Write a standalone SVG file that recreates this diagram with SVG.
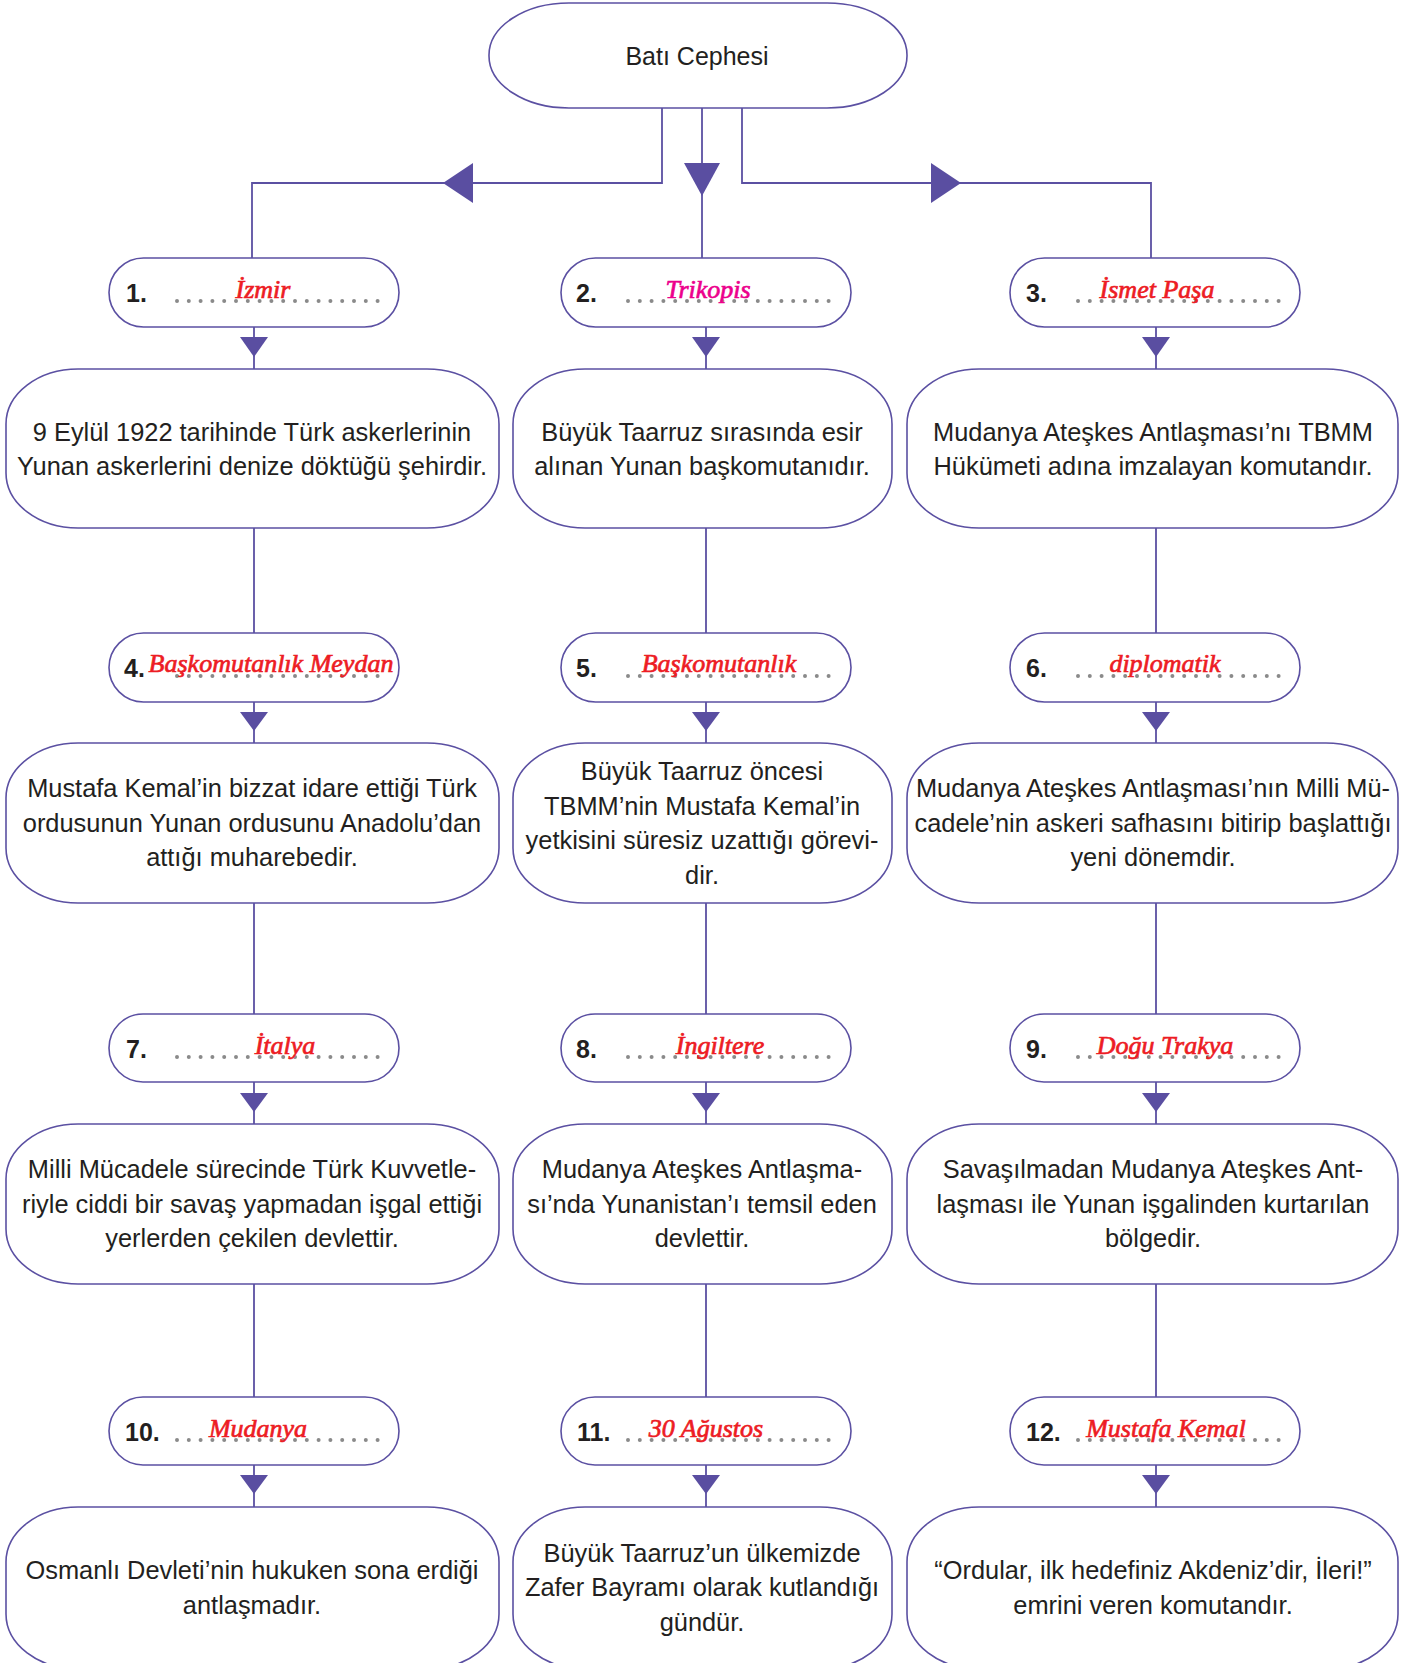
<svg xmlns="http://www.w3.org/2000/svg" width="1408" height="1663" viewBox="0 0 1408 1663">
<defs>
<style>
.box{fill:#fff;stroke:#5b50a2;stroke-width:1.6}
.ln{fill:none;stroke:#5b50a2;stroke-width:1.8}
.ar{fill:#5a4ea1;stroke:none}
.t{font-family:"Liberation Sans",Arial,sans-serif;font-size:25.4px;fill:#231f20;text-anchor:middle}
.n{font-family:"Liberation Sans",Arial,sans-serif;font-size:25px;font-weight:bold;fill:#231f20}
.d{stroke:#8a8a8a;stroke-width:4;stroke-linecap:round;stroke-dasharray:0 11.8}
.a{font-family:"Liberation Serif","Times New Roman",serif;font-style:italic;font-size:26px;fill:#ed1c24;stroke:#ed1c24;stroke-width:0.7;text-anchor:middle}
.m{fill:#ec008c;stroke:#ec008c}
</style>
</defs>
<rect width="1408" height="1663" fill="#fff"/>

<g id="connectors">
<path class="ln" d="M662,108 V183 H252 V259"/>
<path class="ln" d="M702,108 V259"/>
<path class="ln" d="M742,108 V183 H1151 V259"/>
<polygon class="ar" points="443,183 473,163 473,203"/>
<polygon class="ar" points="702,196 684,163 720,163"/>
<polygon class="ar" points="961,183 931,163 931,203"/>

<path class="ln" d="M254,327 V369 M254,528 V633 M254,702 V743 M254,903 V1014 M254,1082 V1124 M254,1284 V1397 M254,1465 V1507"/>
<path class="ln" d="M706,327 V369 M706,528 V633 M706,702 V743 M706,903 V1014 M706,1082 V1124 M706,1284 V1397 M706,1465 V1507"/>
<path class="ln" d="M1156,327 V369 M1156,528 V633 M1156,702 V743 M1156,903 V1014 M1156,1082 V1124 M1156,1284 V1397 M1156,1465 V1507"/>

<polygon class="ar" points="240,337 268,337 254,357"/>
<polygon class="ar" points="692,337 720,337 706,357"/>
<polygon class="ar" points="1142,337 1170,337 1156,357"/>
<polygon class="ar" points="240,712 268,712 254,731"/>
<polygon class="ar" points="692,712 720,712 706,731"/>
<polygon class="ar" points="1142,712 1170,712 1156,731"/>
<polygon class="ar" points="240,1093 268,1093 254,1112"/>
<polygon class="ar" points="692,1093 720,1093 706,1112"/>
<polygon class="ar" points="1142,1093 1170,1093 1156,1112"/>
<polygon class="ar" points="240,1475 268,1475 254,1494"/>
<polygon class="ar" points="692,1475 720,1475 706,1494"/>
<polygon class="ar" points="1142,1475 1170,1475 1156,1494"/>
</g>

<g id="root">
<rect class="box" x="489" y="3" width="418" height="105" rx="80" ry="52"/>
<text class="t" x="697" y="65" style="font-size:25px">Batı Cephesi</text>
</g>

<!-- Row 1 small -->
<g id="s1">
<rect class="box" x="109" y="258" width="290" height="69" rx="34.5"/>
<text class="n" x="126" y="302">1.</text>
<line class="d" x1="177" y1="301" x2="378" y2="301"/>
<text class="a" x="263" y="298">İzmir</text>
</g>
<g id="s2">
<rect class="box" x="561" y="258" width="290" height="69" rx="34.5"/>
<text class="n" x="576" y="302">2.</text>
<line class="d" x1="628" y1="301" x2="830" y2="301"/>
<text class="a m" x="708" y="298">Trikopis</text>
</g>
<g id="s3">
<rect class="box" x="1010" y="258" width="290" height="69" rx="34.5"/>
<text class="n" x="1026" y="302">3.</text>
<line class="d" x1="1078" y1="301" x2="1280" y2="301"/>
<text class="a" x="1157" y="298">İsmet Paşa</text>
</g>

<!-- Row 1 big -->
<g id="b1">
<rect class="box" x="6" y="369" width="493" height="159" rx="72" ry="55"/>
<text class="t" x="252" y="441">9 Eylül 1922 tarihinde Türk askerlerinin</text>
<text class="t" x="252" y="475">Yunan askerlerini denize döktüğü şehirdir.</text>
</g>
<g id="b2">
<rect class="box" x="513" y="369" width="379" height="159" rx="72" ry="55"/>
<text class="t" x="702" y="441">Büyük Taarruz sırasında esir</text>
<text class="t" x="702" y="475">alınan Yunan başkomutanıdır.</text>
</g>
<g id="b3">
<rect class="box" x="907" y="369" width="491" height="159" rx="72" ry="55"/>
<text class="t" x="1153" y="441">Mudanya Ateşkes Antlaşması’nı TBMM</text>
<text class="t" x="1153" y="475">Hükümeti adına imzalayan komutandır.</text>
</g>

<!-- Row 2 small -->
<g id="s4">
<rect class="box" x="109" y="633" width="290" height="69" rx="34.5"/>
<text class="n" x="124" y="677">4.</text>
<line class="d" x1="177" y1="676" x2="378" y2="676"/>
<text class="a" x="271" y="672">Başkomutanlık Meydan</text>
</g>
<g id="s5">
<rect class="box" x="561" y="633" width="290" height="69" rx="34.5"/>
<text class="n" x="576" y="677">5.</text>
<line class="d" x1="628" y1="676" x2="830" y2="676"/>
<text class="a" x="719" y="672">Başkomutanlık</text>
</g>
<g id="s6">
<rect class="box" x="1010" y="633" width="290" height="69" rx="34.5"/>
<text class="n" x="1026" y="677">6.</text>
<line class="d" x1="1078" y1="676" x2="1280" y2="676"/>
<text class="a" x="1165" y="672">diplomatik</text>
</g>

<!-- Row 2 big -->
<g id="b4">
<rect class="box" x="6" y="743" width="493" height="160" rx="72" ry="55"/>
<text class="t" x="252" y="797">Mustafa Kemal’in bizzat idare ettiği Türk</text>
<text class="t" x="252" y="831.5">ordusunun Yunan ordusunu Anadolu’dan</text>
<text class="t" x="252" y="866">attığı muharebedir.</text>
</g>
<g id="b5">
<rect class="box" x="513" y="743" width="379" height="160" rx="72" ry="55"/>
<text class="t" x="702" y="780">Büyük Taarruz öncesi</text>
<text class="t" x="702" y="814.5">TBMM’nin Mustafa Kemal’in</text>
<text class="t" x="702" y="849">yetkisini süresiz uzattığı görevi-</text>
<text class="t" x="702" y="883.5">dir.</text>
</g>
<g id="b6">
<rect class="box" x="907" y="743" width="491" height="160" rx="72" ry="55"/>
<text class="t" x="1153" y="797">Mudanya Ateşkes Antlaşması’nın Milli Mü-</text>
<text class="t" x="1153" y="831.5">cadele’nin askeri safhasını bitirip başlattığı</text>
<text class="t" x="1153" y="866">yeni dönemdir.</text>
</g>

<!-- Row 3 small -->
<g id="s7">
<rect class="box" x="109" y="1014" width="290" height="68" rx="34"/>
<text class="n" x="126" y="1058">7.</text>
<line class="d" x1="177" y1="1057" x2="378" y2="1057"/>
<text class="a" x="285" y="1054">İtalya</text>
</g>
<g id="s8">
<rect class="box" x="561" y="1014" width="290" height="68" rx="34"/>
<text class="n" x="576" y="1058">8.</text>
<line class="d" x1="628" y1="1057" x2="830" y2="1057"/>
<text class="a" x="720" y="1054">İngiltere</text>
</g>
<g id="s9">
<rect class="box" x="1010" y="1014" width="290" height="68" rx="34"/>
<text class="n" x="1026" y="1058">9.</text>
<line class="d" x1="1078" y1="1057" x2="1280" y2="1057"/>
<text class="a" x="1165" y="1054">Doğu Trakya</text>
</g>

<!-- Row 3 big -->
<g id="b7">
<rect class="box" x="6" y="1124" width="493" height="160" rx="72" ry="55"/>
<text class="t" x="252" y="1178">Milli Mücadele sürecinde Türk Kuvvetle-</text>
<text class="t" x="252" y="1212.5">riyle ciddi bir savaş yapmadan işgal ettiği</text>
<text class="t" x="252" y="1247">yerlerden çekilen devlettir.</text>
</g>
<g id="b8">
<rect class="box" x="513" y="1124" width="379" height="160" rx="72" ry="55"/>
<text class="t" x="702" y="1178">Mudanya Ateşkes Antlaşma-</text>
<text class="t" x="702" y="1212.5">sı’nda Yunanistan’ı temsil eden</text>
<text class="t" x="702" y="1247">devlettir.</text>
</g>
<g id="b9">
<rect class="box" x="907" y="1124" width="491" height="160" rx="72" ry="55"/>
<text class="t" x="1153" y="1178">Savaşılmadan Mudanya Ateşkes Ant-</text>
<text class="t" x="1153" y="1212.5">laşması ile Yunan işgalinden kurtarılan</text>
<text class="t" x="1153" y="1247">bölgedir.</text>
</g>

<!-- Row 4 small -->
<g id="s10">
<rect class="box" x="109" y="1397" width="290" height="68" rx="34"/>
<text class="n" x="125" y="1441">10.</text>
<line class="d" x1="177" y1="1440" x2="378" y2="1440"/>
<text class="a" x="258" y="1437">Mudanya</text>
</g>
<g id="s11">
<rect class="box" x="561" y="1397" width="290" height="68" rx="34"/>
<text class="n" x="577" y="1441">11.</text>
<line class="d" x1="628" y1="1440" x2="830" y2="1440"/>
<text class="a" x="706" y="1437">30 Ağustos</text>
</g>
<g id="s12">
<rect class="box" x="1010" y="1397" width="290" height="68" rx="34"/>
<text class="n" x="1026" y="1441">12.</text>
<line class="d" x1="1078" y1="1440" x2="1280" y2="1440"/>
<text class="a" x="1166" y="1437">Mustafa Kemal</text>
</g>

<!-- Row 4 big -->
<g id="b10">
<rect class="box" x="6" y="1507" width="493" height="162" rx="72" ry="55"/>
<text class="t" x="252" y="1579">Osmanlı Devleti’nin hukuken sona erdiği</text>
<text class="t" x="252" y="1613.5">antlaşmadır.</text>
</g>
<g id="b11">
<rect class="box" x="513" y="1507" width="379" height="162" rx="72" ry="55"/>
<text class="t" x="702" y="1561.5">Büyük Taarruz’un ülkemizde</text>
<text class="t" x="702" y="1596">Zafer Bayramı olarak kutlandığı</text>
<text class="t" x="702" y="1630.5">gündür.</text>
</g>
<g id="b12">
<rect class="box" x="907" y="1507" width="491" height="162" rx="72" ry="55"/>
<text class="t" x="1153" y="1579">“Ordular, ilk hedefiniz Akdeniz’dir, İleri!”</text>
<text class="t" x="1153" y="1613.5">emrini veren komutandır.</text>
</g>
</svg>
